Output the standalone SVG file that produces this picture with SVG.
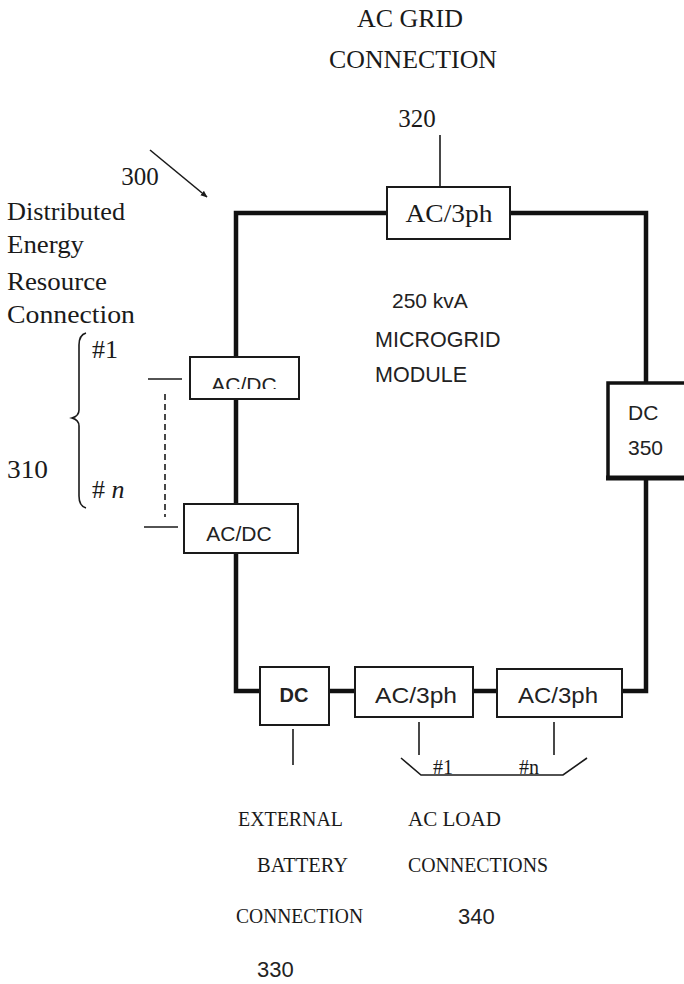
<svg xmlns="http://www.w3.org/2000/svg" width="684" height="984" viewBox="0 0 684 984">
<style>
.serif{font-family:"Liberation Serif","Times New Roman",serif;fill:#1a1a1a}
.sans{font-family:"Liberation Sans",Arial,sans-serif;fill:#222}
.box{fill:#fff;stroke:#1a1a1a;stroke-width:2}
.bus{fill:none;stroke:#111;stroke-width:4.5;stroke-linejoin:miter}
.thin{fill:none;stroke:#1a1a1a;stroke-width:1.6}
</style>
<defs>
<marker id="arr" viewBox="0 0 10 10" refX="9" refY="5" markerWidth="7" markerHeight="7" orient="auto" markerUnits="userSpaceOnUse">
<path d="M0,1 L10,5 L0,9 z" fill="#1a1a1a"/>
</marker>
<clipPath id="clipAcdc1"><rect x="190" y="357" width="109" height="32"/></clipPath>
</defs>
<rect width="684" height="984" fill="#fff"/>

<g id="connectors">
<path class="bus" d="M236,213 H646 V691 H236 Z"/>
<line class="thin" x1="440" y1="135" x2="440" y2="187"/>
<line class="thin" x1="150" y1="150" x2="207" y2="197" marker-end="url(#arr)"/>
<line class="thin" x1="148" y1="379" x2="182" y2="379"/>
<line class="thin" x1="165" y1="394" x2="165" y2="517" stroke-dasharray="6,4"/>
<line class="thin" x1="144" y1="527" x2="178" y2="527"/>
<path class="thin" d="M86,333 Q79,335 79,345 V410 Q79,416 72,418 Q79,420 79,426 V496 Q79,506 86,508"/>
<line class="thin" x1="293" y1="729" x2="293" y2="765"/>
<line class="thin" x1="419" y1="722" x2="419" y2="755"/>
<line class="thin" x1="554" y1="722" x2="554" y2="755"/>
<polyline class="thin" points="401,758 421,775 563,775 587,758"/>
</g>

<g id="title">
<text class="serif" x="410" y="27" font-size="25" text-anchor="middle" textLength="106" lengthAdjust="spacingAndGlyphs">AC GRID</text>
<text class="serif" x="413" y="68" font-size="25" text-anchor="middle" textLength="168" lengthAdjust="spacingAndGlyphs">CONNECTION</text>
<text class="serif" x="417" y="127" font-size="25" text-anchor="middle">320</text>
<text class="serif" x="140" y="185" font-size="25" text-anchor="middle">300</text>
</g>

<g id="der-label">
<text class="serif" x="7" y="220" font-size="26" textLength="118" lengthAdjust="spacingAndGlyphs">Distributed</text>
<text class="serif" x="7" y="253" font-size="26" textLength="77" lengthAdjust="spacingAndGlyphs">Energy</text>
<text class="serif" x="7" y="290" font-size="26" textLength="100" lengthAdjust="spacingAndGlyphs">Resource</text>
<text class="serif" x="7" y="323" font-size="26" textLength="128" lengthAdjust="spacingAndGlyphs">Connection</text>
<text class="serif" x="92" y="358" font-size="26">#1</text>
<text class="serif" x="92" y="498" font-size="26"># <tspan font-style="italic">n</tspan></text>
<text class="serif" x="7" y="478" font-size="25" textLength="41" lengthAdjust="spacingAndGlyphs">310</text>
</g>

<g id="module-label">
<text class="sans" x="392" y="308" font-size="21">250 kvA</text>
<text class="sans" x="375" y="347" font-size="21.5">MICROGRID</text>
<text class="sans" x="375" y="382" font-size="21.5">MODULE</text>
</g>

<g id="node-320">
<rect class="box" x="387" y="187" width="123" height="52"/>
<text class="serif" x="449" y="222" font-size="26" text-anchor="middle" textLength="87" lengthAdjust="spacingAndGlyphs">AC/3ph</text>
</g>

<g id="node-acdc-1">
<rect class="box" x="190" y="357" width="109" height="42"/>
<text class="sans" x="244" y="392" font-size="21" text-anchor="middle" clip-path="url(#clipAcdc1)">AC/DC</text>
</g>

<g id="node-acdc-n">
<rect class="box" x="184" y="504" width="114" height="49"/>
<text class="sans" x="239" y="541" font-size="21" text-anchor="middle">AC/DC</text>
</g>

<g id="node-350">
<rect x="608" y="383" width="90" height="95" fill="#fff" stroke="#111" stroke-width="3.5"/>
<line x1="606" y1="478" x2="684" y2="478" stroke="#111" stroke-width="5"/>
<text class="sans" x="628" y="420" font-size="21">DC</text>
<text class="sans" x="628" y="455" font-size="21">350</text>
</g>

<g id="node-dc-battery">
<rect class="box" x="260" y="667" width="69" height="58"/>
<text class="sans" x="294" y="702" font-size="20" font-weight="bold" text-anchor="middle">DC</text>
</g>

<g id="node-ac-load-1">
<rect class="box" x="355" y="667" width="118" height="50"/>
<text class="sans" x="416" y="703" font-size="22" text-anchor="middle" textLength="82" lengthAdjust="spacingAndGlyphs">AC/3ph</text>
</g>

<g id="node-ac-load-n">
<rect class="box" x="497" y="669" width="125" height="48"/>
<text class="sans" x="558" y="703" font-size="22" text-anchor="middle" textLength="80" lengthAdjust="spacingAndGlyphs">AC/3ph</text>
</g>

<g id="bottom-labels">
<text class="serif" x="433" y="774" font-size="20">#1</text>
<text class="serif" x="519" y="774" font-size="20">#n</text>
<text class="serif" x="238" y="826" font-size="20" textLength="105" lengthAdjust="spacingAndGlyphs">EXTERNAL</text>
<text class="serif" x="257" y="872" font-size="20" textLength="91" lengthAdjust="spacingAndGlyphs">BATTERY</text>
<text class="serif" x="236" y="923" font-size="20" textLength="127" lengthAdjust="spacingAndGlyphs">CONNECTION</text>
<text class="sans" x="257" y="977" font-size="22">330</text>
<text class="serif" x="408" y="826" font-size="20" textLength="93" lengthAdjust="spacingAndGlyphs">AC LOAD</text>
<text class="serif" x="408" y="872" font-size="20" textLength="140" lengthAdjust="spacingAndGlyphs">CONNECTIONS</text>
<text class="sans" x="458" y="924" font-size="22">340</text>
</g>
</svg>
